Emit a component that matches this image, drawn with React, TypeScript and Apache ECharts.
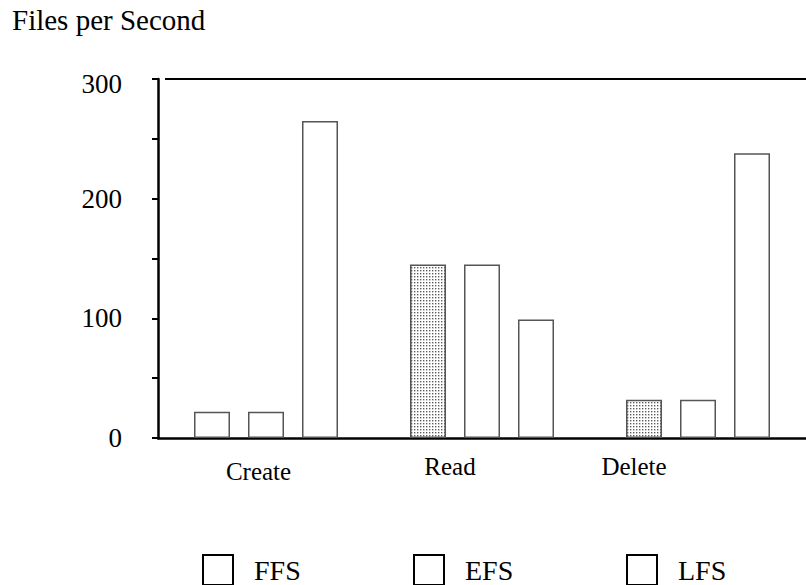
import React, { useEffect, useRef } from 'react';
import * as echarts from 'echarts';

const categories = ['Create', 'Read', 'Delete'];
const seriesNames = ['FFS', 'EFS', 'LFS'];
const ffsValues = [22, 145, 32];
const efsValues = [22, 145, 32];
const lfsValues = [265, 99, 238];
const ffsPatterned = [false, true, true];
const yMin = 0;
const yMax = 300;
const yInterval = 100;
const titleText = 'Files per Second';

// per-category label offsets (layout only)
const labelPadding = [
  [5, 15, 0, 0],
  [0, 64, 0, 0],
  [0, 128, 0, 0],
];
const legendLefts = [202, 413, 626];

const FONT = 'Liberation Serif';

function makePattern() {
  const c = document.createElement('canvas');
  c.width = 3;
  c.height = 3;
  const ctx = c.getContext('2d')!;
  ctx.fillStyle = '#ffffff';
  ctx.fillRect(0, 0, 3, 3);
  ctx.fillStyle = '#5a5a5a';
  ctx.fillRect(0, 0, 1, 1);
  ctx.fillStyle = '#c4c4c4';
  ctx.fillRect(1, 0, 1, 1);
  ctx.fillRect(0, 1, 1, 1);
  ctx.fillStyle = '#e6e6e6';
  ctx.fillRect(1, 1, 1, 1);
  return { image: c.toDataURL(), repeat: 'repeat', imageWidth: 3, imageHeight: 3 } as any;
}

export default function App() {
  const ref = useRef<HTMLDivElement>(null);
  useEffect(() => {
    if (!ref.current) return;
    const chart = echarts.init(ref.current, null, { renderer: 'svg' });
    const pattern = makePattern();
    const border = { borderColor: '#555', borderWidth: 1.5 };
    const valuesList = [ffsValues, efsValues, lfsValues];
    const series = seriesNames.map((name, si) => ({
      name,
      type: 'bar',
      barWidth: 36,
      barGap: '50%',
      itemStyle: { color: '#ffffff', ...border },
      data: valuesList[si].map((v, ci) =>
        si === 0 && ffsPatterned[ci]
          ? { value: v, itemStyle: { color: pattern, ...border } }
          : v
      ),
    }));
    const catRich: Record<string, any> = {};
    categories.forEach((_, i) => {
      catRich['c' + i] = {
        fontFamily: FONT,
        fontSize: 25,
        color: '#000',
        padding: labelPadding[i],
      };
    });
    chart.setOption({
      animation: false,
      backgroundColor: '#ffffff',
      textStyle: { fontFamily: FONT },
      title: {
        text: titleText,
        left: 12,
        top: 5,
        padding: 0,
        textStyle: { fontFamily: FONT, fontSize: 29, fontWeight: 'normal', color: '#000' },
      },
      legend: seriesNames.map((name, i) => ({
        data: [name],
        left: legendLefts[i],
        top: 554,
        padding: 0,
        itemWidth: 30,
        itemHeight: 30,
        icon: 'rect',
        selectedMode: false,
        itemStyle: { color: '#ffffff', borderColor: '#000', borderWidth: 2 },
        textStyle: { fontFamily: FONT, fontSize: 28, color: '#000', padding: [0, 0, 0, 16] },
      })),
      grid: { left: 158, right: -2, top: 79, bottom: 147 },
      xAxis: {
        type: 'category',
        data: categories,
        axisLine: { lineStyle: { color: '#000', width: 2.5 } },
        axisTick: { show: false },
        axisLabel: {
          fontFamily: FONT,
          fontSize: 25,
          color: '#000',
          margin: 16,
          formatter: (v: string, i: number) => `{c${i}|${v}}`,
          rich: catRich,
        },
        splitLine: { show: false },
      },
      yAxis: {
        type: 'value',
        min: yMin,
        max: yMax,
        interval: yInterval,
        axisLine: { show: true, lineStyle: { color: '#000', width: 2.5 } },
        axisTick: { show: true, length: 6, lineStyle: { color: '#000', width: 2 } },
        minorTick: { show: true, splitNumber: 2, length: 6, lineStyle: { color: '#000', width: 2 } },
        axisLabel: {
          fontFamily: FONT,
          fontSize: 27,
          color: '#000',
          margin: 36,
          formatter: (v: number) => (v === yMax ? `{top|${v}}` : `${v}`),
          rich: { top: { fontFamily: FONT, fontSize: 27, color: '#000', padding: [10, 0, 0, 0] } },
        },
        splitLine: { show: false },
      },
      graphic: [
        {
          type: 'line',
          shape: { x1: 165, y1: 79, x2: 806, y2: 79 },
          style: { stroke: '#000', lineWidth: 2 },
        },
      ],
      series,
    });
    return () => chart.dispose();
  }, []);
  return (
    <div
      ref={ref}
      style={{ position: 'fixed', left: 0, top: 0, width: 806, height: 585, background: '#fff' }}
    />
  );
}
